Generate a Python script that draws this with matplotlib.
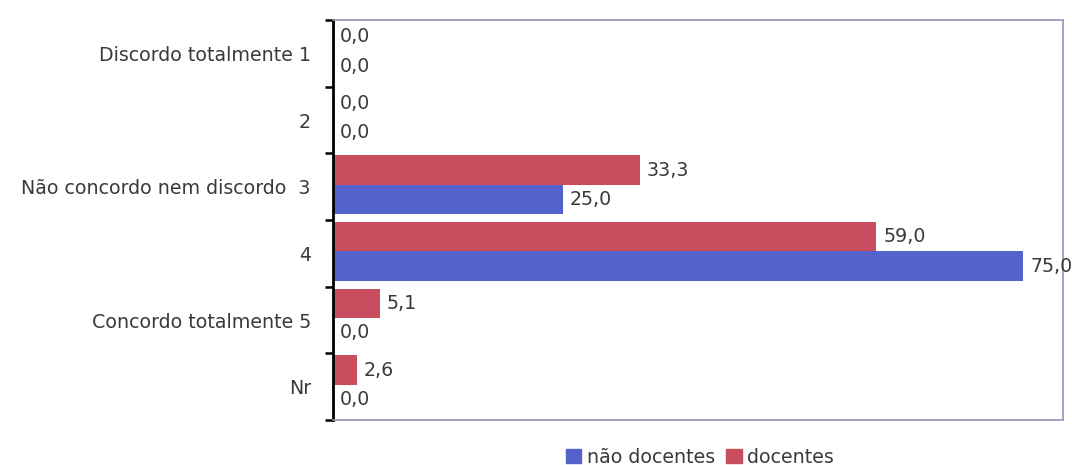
import matplotlib
matplotlib.use("Agg")
import matplotlib.pyplot as plt
from matplotlib.patches import Patch
import numpy as np

categories = ["Discordo totalmente 1", "2", "Não concordo nem discordo  3", "4",
              "Concordo totalmente 5", "Nr"]
docentes = [0.0, 0.0, 33.3, 59.0, 5.1, 2.6]
nao_docentes = [0.0, 0.0, 25.0, 75.0, 0.0, 0.0]
series_names = ["não docentes", "docentes"]

RED = "#C84D5E"
BLUE = "#5462CC"
FRAME = "#9C90B4"
TXT = "#3a3a3a"
FS = 13.7

plt.rcParams['font.family'] = ['DejaVu Sans']
fig = plt.figure(figsize=(10.72, 4.65), dpi=100)
ax = fig.add_axes([333/1072, 1-420/465, (1063-333)/1072, (420-20)/465])

y = np.arange(len(categories))
h = 0.44
shift = -0.03
ax.barh(y + shift - h/2, docentes, height=h, color=RED)
ax.barh(y + shift + h/2, nao_docentes, height=h, color=BLUE)

for i, (d, n) in enumerate(zip(docentes, nao_docentes)):
    ax.annotate(f"{d:.1f}".replace(".", ","), (d, i + shift - h/2), xytext=(5, 0),
                textcoords="offset points", va="center", ha="left", fontsize=FS, color=TXT)
    ax.annotate(f"{n:.1f}".replace(".", ","), (n, i + shift + h/2), xytext=(5, 0),
                textcoords="offset points", va="center", ha="left", fontsize=FS, color=TXT)

ax.set_xlim(0, 79.3)
ax.set_ylim(len(categories) - 0.5, -0.5)
ax.set_xticks([])
ax.set_yticks(y)
ax.set_yticklabels(categories, fontsize=FS, color=TXT)
ax.tick_params(axis="y", which="major", length=0, pad=16)
ax.set_yticks(np.arange(-0.5, len(categories), 1.0), minor=True)
ax.tick_params(axis="y", which="minor", length=6, width=1.8, color="black")

ax.spines["left"].set_color("black")
ax.spines["left"].set_linewidth(2)
for s in ["top", "right", "bottom"]:
    ax.spines[s].set_color(FRAME)
    ax.spines[s].set_linewidth(1.2)

handles = [Patch(color=BLUE), Patch(color=RED)]
fig.legend(handles, series_names, loc="center", bbox_to_anchor=(700/1072, 1-457/465),
           ncol=2, frameon=False, fontsize=FS, handlelength=0.8, handleheight=0.8,
           handletextpad=0.3, columnspacing=0.6, labelcolor=TXT)

fig.savefig("out.png", dpi=100)
